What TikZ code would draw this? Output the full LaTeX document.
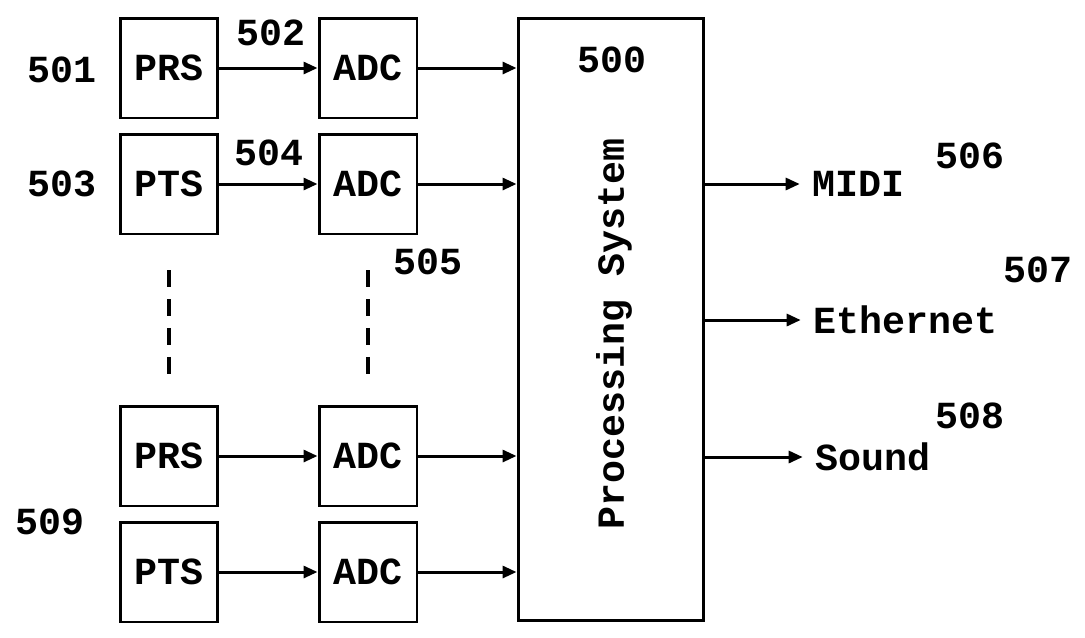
\documentclass[tikz,border=0pt]{standalone}
\usepackage{fontspec}
\setmonofont{Liberation Mono}
\usetikzlibrary{positioning,arrows.meta}

\tikzset{
  blk/.style={draw,line width=1.7pt,minimum width=1.96cm,minimum height=2cm,inner sep=0pt},
  lbl/.style={inner sep=0pt},
  link/.style={line width=1.7pt,-{Triangle[length=0.28cm,width=0.24cm]}},
  dots/.style={line width=2.6pt,dash pattern=on 0.34cm off 0.24cm}
}

\begin{document}
\begin{tikzpicture}[x=0.02cm,y=-0.02cm,font=\ttfamily\bfseries\fontsize{21.8}{26}\selectfont]
        \useasboundingbox (0,0) rectangle (1085,637);
        % sensors and converters
        \node[blk] (prs1) at (169,68) {PRS};
        \node[blk] (adc1) at (368,68) {ADC};
        \node[blk] (pts1) at (169,184) {PTS};
        \node[blk] (adc2) at (368,184) {ADC};
        \node[blk] (prs2) at (169,456) {PRS};
        \node[blk] (adc3) at (368,456) {ADC};
        \node[blk] (pts2) at (169,572) {PTS};
        \node[blk] (adc4) at (368,572) {ADC};
        % processing system
        \node[blk,minimum width=3.72cm,minimum height=12.06cm] (ps) at (611,319.5) {};
        \node[lbl,rotate=90] (pslbl) at (614,334) {Processing System};
        % outputs
        \node[lbl,anchor=west] (midi) at (812,184) {MIDI};
        \node[lbl,anchor=west] (eth) at (813,320) {Ethernet};
        \node[lbl,anchor=west] (snd) at (815,457) {Sound};
        % reference numbers
        \node[lbl] (n500) at (612,60) {500};
        \node[lbl] (n501) at (62,70) {501};
        \node[lbl] (n502) at (271,33) {502};
        \node[lbl] (n503) at (62,184) {503};
        \node[lbl] (n504) at (269,153) {504};
        \node[lbl] (n505) at (428,262) {505};
        \node[lbl] (n506) at (970,156) {506};
        \node[lbl] (n507) at (1038,270) {507};
        \node[lbl] (n508) at (970,416) {508};
        \node[lbl] (n509) at (50,522) {509};
        % connections
        \foreach \s/\a in {prs1/adc1,pts1/adc2,prs2/adc3,pts2/adc4} {
          \draw[link] (\s) -- (\a);
          \draw[link] (\a.east) -- (\a.east -| ps.west);
        }
        \foreach \o in {midi,eth,snd}
          \draw[link] (ps.east |- \o.west) -- ([xshift=-7]\o.west);
        % continuation marks
        \coordinate (d1a) at (169,270);
        \coordinate (d1b) at (169,376);
        \coordinate (d2a) at (368,270);
        \coordinate (d2b) at (368,376);
        \draw[dots] (d1a) -- (d1b);
        \draw[dots] (d2a) -- (d2b);
\end{tikzpicture}
\end{document}
